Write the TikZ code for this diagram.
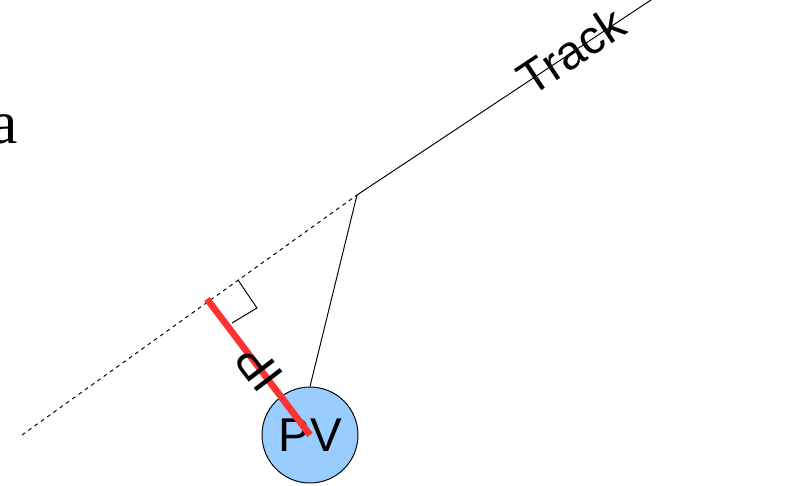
\documentclass[tikz,border=0pt]{standalone}
\usepackage{fontspec}
\setmainfont{Liberation Sans}
\newfontfamily\cutserif{Liberation Serif}
\usetikzlibrary{calc}
\definecolor{PvBlue}{RGB}{153,204,255}
\definecolor{IpRed}{RGB}{255,51,51}

\begin{document}
\begin{tikzpicture}[x=0.02cm,y=-0.02cm,font=\fontsize{27}{32}\selectfont,
    thinline/.style={line width=0.55pt},
    trackdash/.style={thinline,dash pattern=on 2.2pt off 2.2pt}]
  \useasboundingbox (0,0) rectangle (785,485);
  \clip (0,0) rectangle (785,485);
  \node[anchor=base east,inner sep=0pt,font=\cutserif\fontsize{35}{40}\selectfont] (cuta) at (18,143) {a};
  \coordinate (junc) at (357,195);
  \coordinate (trackend) at (660,-6);
  \coordinate (tail) at (22,435);
  \coordinate (foot) at (207,299);
  \coordinate (ra1) at (238,280);
  \coordinate (ra2) at (257,308);
  \coordinate (ra3) at (232,323);
  \draw[thinline] (junc) -- (trackend) node[pos=0.71,sloped,yshift=1pt] (tracklbl) {Track};
  \draw[trackdash] (tail) -- (junc);
  \draw[thinline] (ra1) -- (ra2) -- (ra3);
  \node[circle,draw,thinline,fill=PvBlue,minimum size=1.92cm,inner sep=0pt] (pv) at (310,435) {PV};
  \draw[thinline] (pv.north) -- (junc);
  \draw[IpRed,line width=3.8pt] (pv.center) -- (foot);
  \node[rotate=127.3] (iplbl) at (259,368) {IP};
\end{tikzpicture}
\end{document}
